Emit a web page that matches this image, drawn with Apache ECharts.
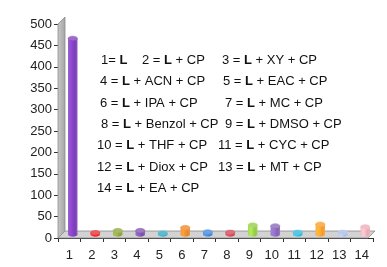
<!DOCTYPE html>
<html>
<head>
<meta charset="utf-8">
<script src="https://cdn.jsdelivr.net/npm/echarts@6/dist/echarts.min.js"></script>
<style>
  html, body { margin: 0; padding: 0; background: #fff; }
  #chart { width: 387px; height: 267px; }
</style>
</head>
<body>
<div id="chart"></div>
<script>
// categories and values
var categories = ['1', '2', '3', '4', '5', '6', '7', '8', '9', '10', '11', '12', '13', '14'];
var values = [458, 4, 9, 9, 3, 16, 6, 5, 22, 20, 5, 24, 5, 18];
var barColors = ['#7b3cb5', '#e8262a', '#8aa13c', '#7a4fa6', '#2fa3bf', '#e6852b', '#3f82d0',
  '#c9434f', '#94c847', '#8464b2', '#2fb3d3', '#f59a2c', '#a7b7e6', '#e8aab3'];
var yTicks = { min: 0, max: 500, interval: 50 };

// legend text rows: [text, x] pairs per line
var noteRows = [
  [['1= {b|L}', 101], ['2 = {b|L} + CP', 142], ['3 = {b|L} + XY + CP', 222]],
  [['4 = {b|L} + ACN + CP', 100], ['5 = {b|L} + EAC + CP', 223]],
  [['6 = {b|L} + IPA + CP', 100], ['7 = {b|L} + MC + CP', 225]],
  [['8 = {b|L} + Benzol + CP', 101], ['9 = {b|L} + DMSO + CP', 225]],
  [['10 = {b|L} + THF + CP', 97], ['11 = {b|L} + CYC + CP', 218]],
  [['12 = {b|L} + Diox + CP', 97], ['13 = {b|L} + MT + CP', 218]],
  [['14 = {b|L} + EA + CP', 97]]
];
var noteTop = 62, noteStep = 21.3;

var DEPTH = 7;
var FONT = '"Liberation Sans", Arial, sans-serif';

var chart = echarts.init(document.getElementById('chart'));

var graphics = [];
noteRows.forEach(function (row, r) {
  row.forEach(function (item) {
    graphics.push({
      type: 'text',
      left: item[1],
      top: noteTop + r * noteStep - 8,
      z: 10,
      style: {
        text: item[0],
        fill: '#111',
        font: '13px ' + FONT,
        rich: { b: { fontWeight: 'bold', fontSize: 13, fontFamily: FONT, fill: '#111' } }
      }
    });
  });
});

function renderFrame(params, api) {
  var cs = params.coordSys;
  var x0 = cs.x, y0 = cs.y, w = cs.width, h = cs.height;
  var yb = y0 + h;
  return {
    type: 'group',
    children: [
      {
        type: 'polygon',
        shape: { points: [[x0, yb], [x0, y0], [x0 + DEPTH, y0 - DEPTH], [x0 + DEPTH, yb - DEPTH]] },
        style: {
          fill: new echarts.graphic.LinearGradient(0, 0, 1, 0, [
            { offset: 0, color: '#c9c9c9' }, { offset: 1, color: '#a3a3a3' }
          ]),
          stroke: '#8c8c8c', lineWidth: 0.8
        }
      },
      {
        type: 'polygon',
        shape: { points: [[x0, yb], [x0 + w - 5, yb], [x0 + w + DEPTH - 5, yb - DEPTH], [x0 + DEPTH, yb - DEPTH]] },
        style: { fill: '#d3d3d3', stroke: '#8c8c8c', lineWidth: 0.8 }
      }
    ]
  };
}

function renderBar(params, api) {
  var idx = api.value(0), v = api.value(1);
  var top = api.coord([idx, v]);
  var base = api.coord([idx, 0]);
  var cx = top[0] + DEPTH / 2;
  var yt = top[1] - DEPTH / 2;
  var yb = base[1] - DEPTH / 2;
  var bw = api.size([1, 0])[0] * 0.42;
  var rx = bw / 2, ry = 2.3;
  var c = barColors[params.dataIndex];
  var side = new echarts.graphic.LinearGradient(0, 0, 1, 0, [
    { offset: 0, color: echarts.color.lift(c, 0.2) },
    { offset: 0.3, color: echarts.color.lift(c, -0.2) },
    { offset: 0.75, color: c },
    { offset: 1, color: echarts.color.lift(c, 0.15) }
  ]);
  return {
    type: 'group',
    children: [
      { type: 'ellipse', shape: { cx: cx, cy: yb, rx: rx, ry: ry }, style: { fill: side } },
      { type: 'rect', shape: { x: cx - rx, y: yt, width: bw, height: Math.max(yb - yt, 0) }, style: { fill: side } },
      { type: 'ellipse', shape: { cx: cx, cy: yt, rx: rx, ry: ry },
        style: { fill: echarts.color.lift(c, 0.25), stroke: echarts.color.lift(c, -0.15), lineWidth: 0.5 } }
    ]
  };
}

chart.setOption({
  animation: false,
  backgroundColor: '#fff',
  textStyle: { fontFamily: FONT },
  grid: { left: 58, right: 14, top: 24, bottom: 29 },
  xAxis: {
    type: 'category',
    data: categories,
    axisLine: { lineStyle: { color: '#333', width: 1 } },
    axisTick: { show: true, length: 4, lineStyle: { color: '#333' } },
    axisLabel: { fontSize: 13, color: '#222', margin: 11 }
  },
  yAxis: {
    type: 'value',
    min: yTicks.min,
    max: yTicks.max,
    interval: yTicks.interval,
    axisLine: { show: true, lineStyle: { color: '#333', width: 1 } },
    axisTick: { show: true, length: 4, lineStyle: { color: '#333' } },
    axisLabel: { fontSize: 13, color: '#222', margin: 6 },
    splitLine: { show: false }
  },
  graphic: graphics,
  series: [
    {
      type: 'custom',
      name: 'frame',
      z: 1,
      silent: true,
      renderItem: renderFrame,
      data: [[0, 0]]
    },
    {
      type: 'custom',
      name: 'bars',
      z: 3,
      renderItem: renderBar,
      encode: { x: 0, y: 1 },
      data: values.map(function (v, i) { return [i, v]; })
    }
  ]
});
</script>
</body>
</html>
